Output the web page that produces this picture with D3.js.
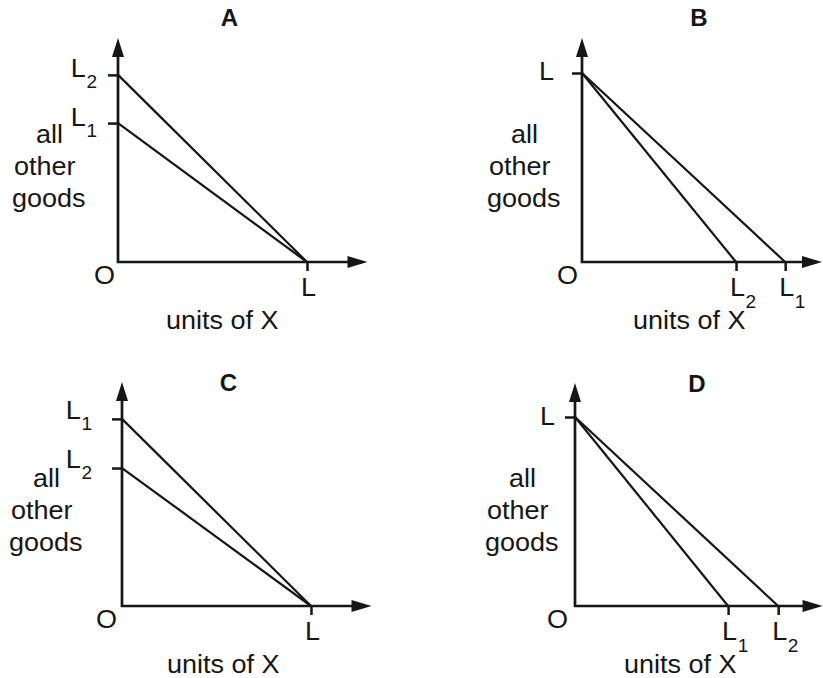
<!DOCTYPE html>
<html><head><meta charset="utf-8">
<script src="https://cdn.jsdelivr.net/npm/d3@7"></script>
<style>body{margin:0;background:#fff}svg{display:block}</style>
</head><body><svg id="c" width="823" height="678"></svg>
<script>
// ---- data ----
const panelNames = ["A", "B", "C", "D"];
const xAxisMax = [13.2, 12.7, 13.2, 13.1];
const yAxisMax = [11.85, 11.85, 11.85, 11.8];
// budget lines per panel: [x-intercept, y-intercept]
const budgetA = [[10, 9.9], [10, 7.35]];
const budgetB = [[8.15, 10], [10.75, 10]];
const budgetC = [[10, 9.9], [10, 7.3]];
const budgetD = [[8.1, 10], [10.75, 10]];
const budgets = [budgetA, budgetB, budgetC, budgetD];
const yTickValues = [[9.9, 7.35], [10], [9.9, 7.3], [10]];
const yTickLabels = [["L_2", "L_1"], ["L"], ["L_1", "L_2"], ["L"]];
const xTickValues = [[10], [8.15, 10.75], [10], [8.1, 10.75]];
const xTickLabels = [["L"], ["L_2", "L_1"], ["L"], ["L_1", "L_2"]];
const yAxisTitle = ["all", "other", "goods"];
const xAxisTitle = "units of X";
const originLabel = "O";

// ---- layout ----
const layout = [
  {ox: 118, oy: 262, title: [229.5, 26], yDx: -21, yDy: 2.5, block: 13, oDx: -3, unitsX: 166},
  {ox: 582, oy: 262, title: [699, 26], yDx: -28, yDy: 7, block: 488, oDx: -4, unitsX: 633},
  {ox: 122, oy: 606, title: [228.5, 391], yDx: -30, yDy: 0, block: 10, oDx: -5, unitsX: 167},
  {ox: 575, oy: 606, title: [697, 392], yDx: -20, yDy: 8, block: 486, oDx: -7, unitsX: 624}
];
const PX = 189;           // pixels for 10 units
const INK = "#161616";
const FONT = "'Liberation Sans', Arial, Helvetica, sans-serif";
const SX = 1.06;

const svg = d3.select("#c");

function labelText(g, str, x, y, anchor, subDx, subDy) {
  const parts = str.split("_");
  const t = g.append("text")
    .attr("transform", `translate(${x},${y}) scale(${SX},1)`)
    .attr("text-anchor", anchor)
    .attr("font-family", FONT).attr("font-size", 25.5).attr("fill", INK);
  t.append("tspan").text(parts[0]);
  if (parts[1]) {
    t.append("tspan").attr("font-size", 18).attr("dx", subDx).attr("dy", subDy).text(parts[1]);
  }
  return t;
}

panelNames.forEach((name, i) => {
  const L = layout[i];
  const g = svg.append("g");
  const x = d3.scaleLinear().domain([0, 10]).range([L.ox, L.ox + PX]);
  const y = d3.scaleLinear().domain([0, 10]).range([L.oy, L.oy - PX]);

  // axes with arrows
  const yTip = y(yAxisMax[i]), xTip = x(xAxisMax[i]);
  g.append("path")
    .attr("d", `M${L.ox},${yTip + 18} L${L.ox},${L.oy} L${xTip - 19},${L.oy}`)
    .attr("fill", "none").attr("stroke", INK).attr("stroke-width", 2.7)
    .attr("stroke-linejoin", "miter").attr("stroke-linecap", "square");
  g.append("path")
    .attr("d", `M${L.ox},${yTip} L${L.ox - 6},${yTip + 19} L${L.ox + 6},${yTip + 19} Z`)
    .attr("fill", INK);
  g.append("path")
    .attr("d", `M${xTip},${L.oy} L${xTip - 20},${L.oy - 6} L${xTip - 20},${L.oy + 6} Z`)
    .attr("fill", INK);

  // tick marks via d3 axes
  const ya = g.append("g").attr("transform", `translate(${L.ox},0)`)
    .call(d3.axisLeft(y).tickValues(yTickValues[i]).tickSize(10).tickSizeOuter(0).tickFormat(""));
  const xa = g.append("g").attr("transform", `translate(0,${L.oy})`)
    .call(d3.axisBottom(x).tickValues(xTickValues[i]).tickSize(9).tickSizeOuter(0).tickFormat(""));
  [ya, xa].forEach(a => {
    a.select(".domain").remove();
    a.selectAll(".tick line").attr("stroke", INK).attr("stroke-width", 2.5);
  });

  // budget lines
  const line = d3.line().x(d => x(d[0])).y(d => y(d[1]));
  budgets[i].forEach(b => {
    g.append("path").datum([[0, b[1]], [b[0], 0]])
      .attr("d", line).attr("fill", "none").attr("stroke", INK).attr("stroke-width", 2.2);
  });

  // tick labels
  yTickValues[i].forEach((v, j) => {
    labelText(g, yTickLabels[i][j], L.ox + L.yDx, y(v) + L.yDy, "end", 0.5, 11);
  });
  xTickValues[i].forEach((v, j) => {
    labelText(g, xTickLabels[i][j], x(v) - 6, L.oy + 34, "start", 0.5, 12);
  });

  // origin
  labelText(g, originLabel, L.ox + L.oDx, L.oy + 22, "end", 0, 0);

  // y axis title lines
  const offs = [[24, -119.5], [2, -87.5], [0, -55]];
  yAxisTitle.forEach((w, j) => {
    labelText(g, w, L.block + offs[j][0] - 1, L.oy + offs[j][1], "start", 0, 0);
  });

  // x axis title
  labelText(g, xAxisTitle, L.unitsX, L.oy + 67, "start", 0, 0);

  // panel title
  g.append("text").attr("x", L.title[0]).attr("y", L.title[1])
    .attr("text-anchor", "middle").attr("font-family", FONT)
    .attr("font-weight", "bold").attr("font-size", 24).attr("fill", INK).text(name);
});
</script></body></html>
